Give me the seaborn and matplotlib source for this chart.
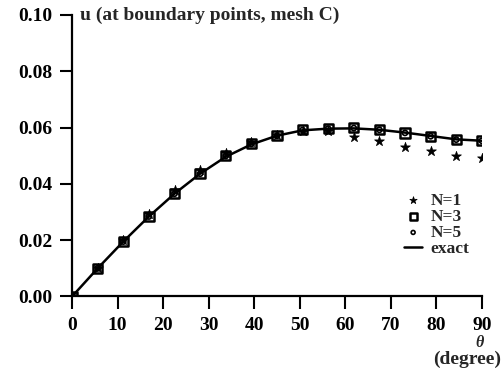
import numpy as np
import pandas as pd
import seaborn as sns
import matplotlib
matplotlib.use("Agg")
import matplotlib.pyplot as plt

theta = [0, 5.625, 11.25, 16.875, 22.5, 28.125, 33.75, 39.375, 45,
         50.625, 56.25, 61.875, 67.5, 73.125, 78.75, 84.375, 90]
u_exact = [0.0, 0.0100, 0.0195, 0.0284, 0.0365, 0.0436, 0.0496, 0.0540, 0.0571,
           0.0590, 0.0596, 0.0597, 0.0592, 0.0582, 0.0570, 0.0558, 0.0553]
u_n3 = [0.0, 0.0100, 0.0195, 0.0284, 0.0365, 0.0436, 0.0500, 0.0543, 0.0571,
        0.0593, 0.0596, 0.0599, 0.0593, 0.0581, 0.0569, 0.0557, 0.0553]
u_n5 = [0.0, 0.0100, 0.0195, 0.0284, 0.0365, 0.0436, 0.0499, 0.0542, 0.0571,
        0.0591, 0.0596, 0.0598, 0.0592, 0.0581, 0.0569, 0.0557, 0.0553]
u_n1 = [0.0, 0.0101, 0.0199, 0.0292, 0.0377, 0.0449, 0.0508, 0.0550, 0.0574,
        0.0586, 0.0588, 0.0567, 0.0553, 0.0530, 0.0515, 0.0500, 0.0493]

yticks = [0.00, 0.02, 0.04, 0.06, 0.08, 0.10]
xticks = [0, 10, 20, 30, 40, 50, 60, 70, 80, 90]

sns.set_theme(style="ticks")
plt.rcParams['font.family'] = ['Liberation Serif', 'DejaVu Serif']
plt.rcParams['font.weight'] = 'bold'

fig = plt.figure(figsize=(5.04, 3.72), dpi=100)
ax = fig.add_axes([0.143, 0.203, 0.813, 0.757])

sns.lineplot(x=theta, y=u_exact, ax=ax, color='black', lw=1.8, label='exact', zorder=2)
sns.scatterplot(x=theta, y=u_n3, ax=ax, marker='s', s=45, facecolor='none',
                edgecolor='black', linewidth=1.8, label='N=3', zorder=3)
sns.scatterplot(x=theta, y=u_n5, ax=ax, marker='o', s=14, facecolor='none',
                edgecolor='black', linewidth=1.2, label='N=5', zorder=4)
sns.scatterplot(x=theta, y=u_n1, ax=ax, marker='*', s=55, color='black',
                edgecolor='black', linewidth=0.5, label='N=1', zorder=5)

ax.set_xlim(0, 90)
ax.set_ylim(0, 0.10)
ax.set_xticks(xticks)
ax.set_yticks(yticks)
ax.set_yticklabels([f"{v:.2f}" for v in yticks])
ax.tick_params(axis='both', direction='out', length=9, width=1.5, labelsize=14,
               colors='black')
ax.tick_params(axis='y', pad=5)
ax.tick_params(axis='x', pad=6)
for lab in ax.get_xticklabels() + ax.get_yticklabels():
    lab.set_fontweight('bold')
sns.despine(ax=ax)
for sp in ['left', 'bottom']:
    ax.spines[sp].set_linewidth(1.6)
    ax.spines[sp].set_color('black')
ax.set_xlabel('')
ax.set_ylabel('')

handles, labels = ax.get_legend_handles_labels()
order = [labels.index(l) for l in ['N=1', 'N=3', 'N=5', 'exact']]
leg = ax.legend([handles[i] for i in order], [labels[i] for i in order],
                loc='upper left', bbox_to_anchor=(0.79, 0.40), frameon=False,
                fontsize=12.5, handlelength=1.0, handletextpad=0.5,
                labelspacing=0.0, borderpad=0.0, markerscale=0.75)
for t in leg.get_texts():
    t.set_fontweight('bold')

fig.text(80/504, 1 - 15/372, 'u (at boundary points, mesh C)', fontsize=14,
         fontweight='bold', ha='left', va='center')
fig.text(480/504, 1 - 343/372, 'θ', fontsize=11.5, fontweight='bold',
         fontstyle='italic', ha='center', va='center')
fig.text(501/504, 1 - 359/372, '(degree)', fontsize=14, fontweight='bold',
         ha='right', va='center')

fig.savefig('out.png', dpi=100)
